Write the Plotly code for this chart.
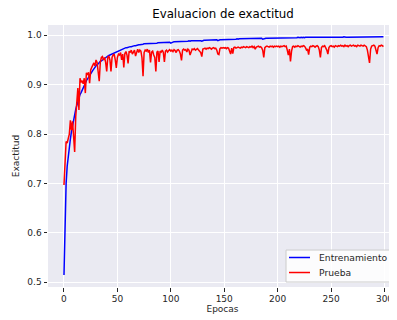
import plotly.graph_objects as go

epochs = list(range(300))

train_acc = [
    0.515, 0.640, 0.700, 0.735, 0.758, 0.775, 0.790, 0.805, 0.818, 0.828,
    0.840, 0.850, 0.858, 0.866, 0.873, 0.880, 0.884, 0.888, 0.893, 0.898,
    0.903, 0.908, 0.912, 0.916, 0.920, 0.923, 0.926, 0.929, 0.932, 0.936,
    0.938, 0.941, 0.942, 0.945, 0.947, 0.948, 0.950, 0.952, 0.953, 0.955,
    0.956, 0.958, 0.959, 0.960, 0.962, 0.963, 0.964, 0.965, 0.966, 0.967,
    0.968, 0.969, 0.970, 0.971, 0.972, 0.972, 0.973, 0.974, 0.975, 0.975,
    0.976, 0.976, 0.977, 0.977, 0.978, 0.978, 0.979, 0.979, 0.980, 0.980,
    0.981, 0.981, 0.981, 0.982, 0.982, 0.983, 0.983, 0.983, 0.983, 0.984,
    0.983, 0.984, 0.984, 0.984, 0.984, 0.984, 0.983, 0.984, 0.985, 0.985,
    0.985, 0.985, 0.985, 0.985, 0.986, 0.986, 0.986, 0.986, 0.986, 0.986,
    0.984, 0.986, 0.986, 0.987, 0.987, 0.987, 0.987, 0.987, 0.987, 0.988,
    0.987, 0.988, 0.988, 0.988, 0.988, 0.988, 0.988, 0.989, 0.988, 0.989,
    0.989, 0.989, 0.989, 0.989, 0.989, 0.989, 0.989, 0.990, 0.989, 0.988,
    0.990, 0.990, 0.990, 0.990, 0.990, 0.990, 0.990, 0.990, 0.991, 0.990,
    0.991, 0.991, 0.991, 0.991, 0.989, 0.991, 0.991, 0.991, 0.991, 0.991,
    0.991, 0.992, 0.992, 0.991, 0.992, 0.992, 0.992, 0.992, 0.992, 0.992,
    0.992, 0.992, 0.993, 0.992, 0.993, 0.993, 0.993, 0.993, 0.993, 0.993,
    0.993, 0.993, 0.993, 0.993, 0.993, 0.994, 0.993, 0.994, 0.994, 0.994,
    0.994, 0.994, 0.994, 0.994, 0.994, 0.994, 0.992, 0.993, 0.994, 0.994,
    0.994, 0.994, 0.994, 0.995, 0.994, 0.994, 0.995, 0.994, 0.995, 0.995,
    0.995, 0.995, 0.995, 0.995, 0.994, 0.995, 0.995, 0.995, 0.995, 0.995,
    0.995, 0.995, 0.995, 0.995, 0.995, 0.995, 0.995, 0.995, 0.995, 0.996,
    0.995, 0.995, 0.996, 0.995, 0.996, 0.995, 0.996, 0.996, 0.995, 0.996,
    0.996, 0.996, 0.996, 0.996, 0.996, 0.995, 0.996, 0.996, 0.996, 0.996,
    0.996, 0.996, 0.996, 0.996, 0.996, 0.996, 0.996, 0.996, 0.996, 0.996,
    0.996, 0.996, 0.996, 0.996, 0.996, 0.996, 0.996, 0.996, 0.996, 0.996,
    0.996, 0.996, 0.997, 0.996, 0.996, 0.996, 0.996, 0.997, 0.996, 0.996,
    0.996, 0.997, 0.996, 0.996, 0.997, 0.996, 0.997, 0.996, 0.996, 0.997,
    0.997, 0.996, 0.997, 0.997, 0.997, 0.996, 0.997, 0.997, 0.997, 0.997,
    0.997, 0.997, 0.997, 0.997, 0.997, 0.997, 0.997, 0.997, 0.997, 0.997,
]

test_acc = [
    0.697, 0.761, 0.785, 0.782, 0.795, 0.800, 0.828, 0.808, 0.826, 0.800,
    0.764, 0.835, 0.865, 0.893, 0.849, 0.913, 0.905, 0.908, 0.902, 0.913,
    0.883, 0.924, 0.920, 0.925, 0.903, 0.930, 0.935, 0.940, 0.944, 0.938,
    0.950, 0.945, 0.930, 0.907, 0.945, 0.955, 0.957, 0.950, 0.955, 0.945,
    0.927, 0.955, 0.958, 0.950, 0.927, 0.955, 0.960, 0.962, 0.950, 0.934,
    0.955, 0.962, 0.960, 0.965, 0.950, 0.962, 0.935, 0.963, 0.967, 0.960,
    0.943, 0.968, 0.965, 0.970, 0.962, 0.968, 0.970, 0.958, 0.968, 0.972,
    0.965, 0.970, 0.968, 0.955, 0.917, 0.965, 0.970, 0.968, 0.972, 0.965,
    0.970, 0.945, 0.966, 0.968, 0.960, 0.955, 0.927, 0.966, 0.968, 0.946,
    0.968, 0.966, 0.970, 0.965, 0.946, 0.968, 0.970, 0.966, 0.969, 0.971,
    0.968, 0.970, 0.967, 0.971, 0.969, 0.965, 0.970, 0.971, 0.968, 0.962,
    0.949, 0.970, 0.972, 0.970, 0.971, 0.966, 0.972, 0.970, 0.960, 0.968,
    0.972, 0.971, 0.973, 0.970, 0.972, 0.973, 0.970, 0.968, 0.965, 0.957,
    0.972, 0.973, 0.974, 0.972, 0.974, 0.973, 0.975, 0.974, 0.972, 0.974,
    0.975, 0.973, 0.974, 0.970, 0.962, 0.961, 0.973, 0.975, 0.974, 0.975,
    0.974, 0.975, 0.973, 0.975, 0.974, 0.968, 0.962, 0.974, 0.963, 0.975,
    0.976, 0.974, 0.975, 0.976, 0.975, 0.974, 0.976, 0.975, 0.977, 0.976,
    0.975, 0.977, 0.976, 0.975, 0.977, 0.976, 0.978, 0.975, 0.977, 0.972,
    0.976, 0.977, 0.978, 0.976, 0.977, 0.975, 0.970, 0.955, 0.975, 0.977,
    0.978, 0.977, 0.976, 0.978, 0.977, 0.978, 0.976, 0.978, 0.977, 0.978,
    0.977, 0.978, 0.976, 0.978, 0.977, 0.978, 0.979, 0.977, 0.978, 0.970,
    0.960, 0.972, 0.947, 0.968, 0.977, 0.978, 0.976, 0.978, 0.977, 0.979,
    0.978, 0.976, 0.978, 0.977, 0.979, 0.978, 0.975, 0.970, 0.972, 0.961,
    0.976, 0.978, 0.977, 0.979, 0.978, 0.976, 0.978, 0.979, 0.977, 0.970,
    0.955, 0.975, 0.978, 0.977, 0.979, 0.975, 0.970, 0.962, 0.975, 0.978,
    0.979, 0.977, 0.978, 0.976, 0.979, 0.978, 0.977, 0.979, 0.978, 0.980,
    0.978, 0.979, 0.977, 0.980, 0.978, 0.979, 0.977, 0.979, 0.980, 0.978,
    0.979, 0.980, 0.978, 0.979, 0.977, 0.980, 0.979, 0.978, 0.980, 0.979,
    0.978, 0.980, 0.979, 0.977, 0.970, 0.960, 0.944, 0.972, 0.978, 0.979,
    0.980, 0.978, 0.972, 0.962, 0.975, 0.979, 0.978, 0.980, 0.979, 0.977,
]

title_text = "Evaluacion de exactitud"
x_label = "Epocas"
y_label = "Exactitud"
series_names = ["Entrenamiento", "Prueba"]
series_colors = ["#0000FF", "#FF0000"]
x_ticks = [0, 50, 100, 150, 200, 250, 300]
y_ticks = [0.5, 0.6, 0.7, 0.8, 0.9, 1.0]
y_tick_labels = ["0.5", "0.6", "0.7", "0.8", "0.9", "1.0"]

font_family = "DejaVu Sans"
text_color = "#262626"

# The page body has an 8px margin, so the figure is laid out 8px up/left
# of where it appears in the window.
fig = go.Figure()
for name, color, ys in zip(series_names, series_colors, [train_acc, test_acc]):
    fig.add_trace(go.Scatter(x=epochs, y=ys, mode="lines", name=name,
                             line=dict(color=color, width=1.5)))

# compact matplotlib-like legend box (paper coords of the plot area)
leg_x0, leg_x1, leg_y0, leg_y1 = 0.682, 0.9943, 0.019, 0.141
row_y = [0.1126, 0.0553]
sym_x0, sym_x1, txt_x = 0.6905, 0.7507, 0.7722
shapes = [dict(type="rect", xref="paper", yref="paper", x0=leg_x0, x1=leg_x1,
               y0=leg_y0, y1=leg_y1, fillcolor="rgba(255,255,255,0.85)",
               line=dict(color="#CCCCCC", width=1), layer="above")]
annotations = []
for name, color, ry in zip(series_names, series_colors, row_y):
    shapes.append(dict(type="line", xref="paper", yref="paper", x0=sym_x0, x1=sym_x1,
                       y0=ry, y1=ry, line=dict(color=color, width=1.5), layer="above"))
    annotations.append(dict(text=name, xref="paper", yref="paper", x=txt_x, y=ry,
                            xanchor="left", yanchor="middle", showarrow=False,
                            font=dict(size=9.2, color=text_color)))

fig.update_layout(
    width=397, height=320,
    margin=dict(l=40, r=8, t=17, b=41, autoexpand=False),
    paper_bgcolor="white",
    plot_bgcolor="#EAEAF2",
    font=dict(family=font_family, color=text_color, size=9),
    title=dict(text=title_text, x=(223 - 8) / 397, xanchor="center", y=1 - 6 / 320,
               yanchor="middle", font=dict(size=11.8, color="#000000")),
    showlegend=False,
    shapes=shapes,
    annotations=annotations,
)
fig.update_xaxes(
    range=[-14.95, 311.7], tickvals=x_ticks, showgrid=True, gridcolor="white", gridwidth=1,
    zeroline=False, ticks="outside", ticklen=3.5, tickcolor=text_color, tickwidth=1,
    tickfont=dict(size=9), showline=False, automargin=False,
    title=dict(text=x_label, font=dict(size=9), standoff=0),
)
fig.update_yaxes(
    range=[0.4905, 1.0208], tickvals=y_ticks, ticktext=y_tick_labels, showgrid=True,
    gridcolor="white", gridwidth=1, zeroline=False, ticks="outside", ticklen=3.5,
    tickcolor=text_color, tickwidth=1, tickfont=dict(size=9), showline=False, automargin=False,
    title=dict(text=y_label, font=dict(size=9), standoff=6),
)

fig.write_html("out.html")
